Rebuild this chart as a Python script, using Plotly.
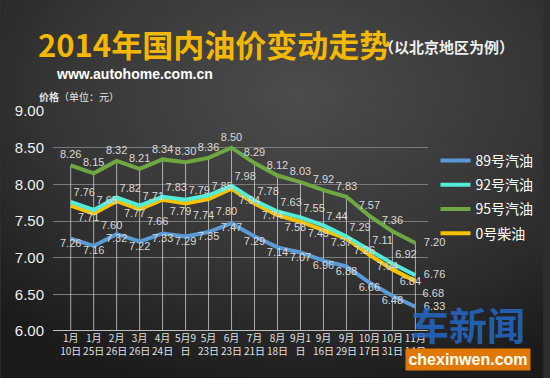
import base64
import plotly.graph_objects as go

# ---------------- data ----------------
dates = ["1月<br>10日", "1月<br>25日", "2月<br>26日", "3月<br>26日", "4月<br>24日",
         "5月9<br>日", "5月<br>23日", "6月<br>23日", "7月<br>21日", "8月<br>18日",
         "9月1<br>日", "9月<br>16日", "9月<br>29日", "10月<br>17日", "10月<br>31日",
         "11月<br>14日"]
gas89 = [7.26, 7.16, 7.32, 7.22, 7.33, 7.29, 7.35, 7.47, 7.29, 7.14, 7.07, 6.96, 6.88, 6.66, 6.48, 6.33]
gas92 = [7.76, 7.65, 7.82, 7.71, 7.83, 7.79, 7.85, 7.98, 7.78, 7.63, 7.55, 7.44, 7.29, 7.11, 6.92, 6.76]
gas95 = [8.26, 8.15, 8.32, 8.21, 8.34, 8.30, 8.36, 8.50, 8.29, 8.12, 8.03, 7.92, 7.83, 7.57, 7.36, 7.20]
diesel0 = [7.71, 7.60, 7.77, 7.66, 7.79, 7.74, 7.80, 7.94, 7.74, 7.58, 7.49, 7.37, 7.26, 7.04, 6.84, 6.68]
series_names = ["89号汽油", "92号汽油", "95号汽油", "0号柴油"]
y_ticks = [6.00, 6.50, 7.00, 7.50, 8.00, 8.50, 9.00]

colors = {"89号汽油": "#5b9bd5", "92号汽油": "#52ecd9", "95号汽油": "#6fa843", "0号柴油": "#f7c200"}
label_color = "#d9d9d9"

xs = list(range(len(dates)))

fig = go.Figure()

# drop lines from the 95 series down to the axis
dx, dy = [], []
for i, v in zip(xs, gas95):
    dx += [i, i, None]
    dy += [y_ticks[0], v, None]
fig.add_trace(go.Scatter(x=dx, y=dy, mode="lines", line=dict(color="rgba(215,215,215,0.75)", width=1),
                         showlegend=False, hoverinfo="skip"))

series = {"89号汽油": gas89, "92号汽油": gas92, "95号汽油": gas95, "0号柴油": diesel0}
draw_order = ["95号汽油", "0号柴油", "92号汽油", "89号汽油"]
legend_rank = {n: k for k, n in enumerate(series_names)}
for name in draw_order:
    vals = series[name]
    fig.add_trace(go.Scatter(x=xs, y=vals, mode="lines", name=name,
                             line=dict(color=colors[name], width=4),
                             legendgroup=name, legendrank=legend_rank[name] + 1,
                             hoverinfo="skip"))

n = len(xs)
positions = {
    "95号汽油": ["top center"] * (n - 1) + ["middle right"],
    "92号汽油": ["top right"] * (n - 1) + ["middle right"],
    "0号柴油": ["bottom right"] * (n - 1) + ["bottom right"],
    "89号汽油": ["bottom center"] * (n - 1) + ["middle right"],
}
# invisible marker sizes only control the label offset from the point
offsets = {
    "95号汽油": [5] * (n - 1) + [12],
    "92号汽油": [3] * (n - 1) + [12],
    "0号柴油": [10] * (n - 1) + [10],
    "89号汽油": [0] * (n - 1) + [12],
}
for name in series_names:
    vals = series[name]
    fig.add_trace(go.Scatter(x=xs, y=vals, mode="markers+text", text=[f"{v:.2f}" for v in vals],
                             textposition=positions[name], cliponaxis=False,
                             marker=dict(size=offsets[name], color="rgba(0,0,0,0)", opacity=0,
                                         line=dict(width=0, color="rgba(0,0,0,0)")),
                             textfont=dict(color=label_color, size=11, family="Liberation Sans, Arial"),
                             showlegend=False, hoverinfo="skip"))

# background radial gradient
svg = ('<svg xmlns="http://www.w3.org/2000/svg" width="550" height="378">'
       '<defs><radialGradient id="g" cx="0.55" cy="0.25" r="0.8">'
       '<stop offset="0" stop-color="#4c4c4c"/><stop offset="0.55" stop-color="#363636"/>'
       '<stop offset="1" stop-color="#1b1b1b"/></radialGradient></defs>'
       '<rect width="550" height="378" fill="url(#g)"/></svg>')
src = "data:image/svg+xml;base64," + base64.b64encode(svg.encode()).decode()

L, R, T, B = 53, 117, 111, 47
W, H = 550, 378
pw, ph = W - L - R, H - T - B
fig.add_layout_image(dict(source=src, xref="paper", yref="paper",
                          x=-L / pw, y=1 + T / ph, sizex=W / pw, sizey=H / ph,
                          xanchor="left", yanchor="top", sizing="stretch", layer="below"))

cjk = "Noto Sans CJK SC"
fig.add_annotation(text="<b>2014年国内油价变动走势</b>", xref="paper", yref="paper",
                   x=(36 - L) / pw, y=1 + (T - 44) / ph, xanchor="left", yanchor="middle",
                   showarrow=False, font=dict(family=cjk, size=31, color="#f4b800"))
fig.add_annotation(text="<b>（以北京地区为例）</b>", xref="paper", yref="paper",
                   x=(381 - L) / pw, y=1 + (T - 47) / ph, xanchor="left", yanchor="middle",
                   showarrow=False, font=dict(family=cjk, size=15, color="#eeeeee"))
fig.add_annotation(text="<b>www.autohome.com.cn</b>", xref="paper", yref="paper",
                   x=(54 - L) / pw, y=1 + (T - 74) / ph, xanchor="left", yanchor="middle",
                   showarrow=False, font=dict(family="Liberation Sans, Arial", size=14, color="#ffffff"))
fig.add_annotation(text="<b>价格</b>（单位：元）", xref="paper", yref="paper",
                   x=(37 - L) / pw, y=1 + (T - 96) / ph, xanchor="left", yanchor="middle",
                   showarrow=False, font=dict(family=cjk, size=10, color="#e6e6e6"))

# watermark
fig.add_annotation(text="<b>车新闻</b>", xref="paper", yref="paper",
                   x=(474 - L) / pw, y=-(323 - (T + ph)) / ph, xanchor="center", yanchor="middle",
                   showarrow=False, font=dict(family=cjk, size=38, color="rgba(35,105,200,0.85)"))
fig.add_annotation(text="<b>chexinwen.com</b>", xref="paper", yref="paper",
                   x=(474 - L) / pw, y=-(359 - (T + ph)) / ph, xanchor="center", yanchor="middle",
                   showarrow=False, bgcolor="#e07800", width=122, height=19,
                   font=dict(family="Liberation Sans, Arial", size=16, color="#ffffff"))

fig.update_layout(
    width=W, height=H,
    margin=dict(l=L, r=R, t=T, b=B),
    paper_bgcolor="#2e2e2e", plot_bgcolor="rgba(0,0,0,0)",
    showlegend=True,
    legend=dict(x=1.02, y=(H - B - 145) / ph, xanchor="left", yanchor="top",
                font=dict(family=cjk, size=14, color="#ffffff"),
                bgcolor="rgba(0,0,0,0)", tracegroupgap=3, itemwidth=30),
    xaxis=dict(range=[-0.77, 15.55], tickmode="array", tickvals=xs, ticktext=dates,
               showgrid=False, zeroline=False, showline=False, ticks="", tickangle=0,
               tickfont=dict(family=cjk, size=10, color="#e0e0e0")),
    yaxis=dict(range=[y_ticks[0], y_ticks[-1]], tickmode="array", tickvals=y_ticks,
               ticktext=[f"{v:.2f}" for v in y_ticks],
               showgrid=True, gridcolor="#7a7a7a", gridwidth=1, zeroline=False, showline=False,
               ticks="", ticklabelstandoff=8,
               tickfont=dict(family="Liberation Sans, Arial", size=15, color="#eeeeee")),
)
# bottom axis line at y minimum
fig.add_shape(type="line", xref="paper", yref="y", x0=0, x1=1, y0=y_ticks[0], y1=y_ticks[0],
              line=dict(color="#bdbdbd", width=2))

fig.write_html("out.html", config={"displayModeBar": False},
               post_script="document.body.style.margin='0';document.body.style.overflow='hidden';")
